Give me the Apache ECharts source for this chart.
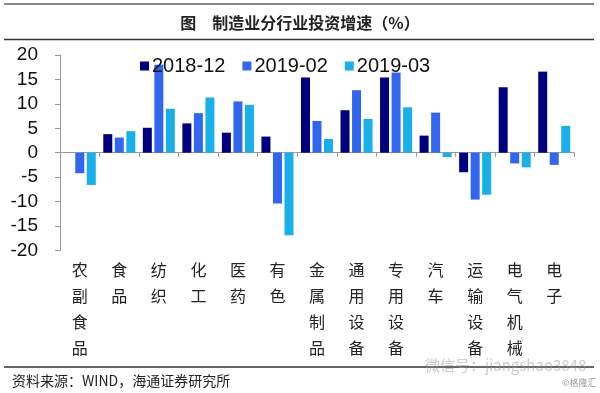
<!DOCTYPE html>
<html><head><meta charset="utf-8">
<script src="https://cdn.jsdelivr.net/npm/echarts@6/dist/echarts.min.js"></script>
<style>html,body{margin:0;padding:0;background:#fff}#c{width:600px;height:393px}</style>
</head><body><div id="c"></div>
<script>
const categories = ['农\n副\n食\n品','食\n品','纺\n织','化\n工','医\n药','有\n色','金\n属\n制\n品','通\n用\n设\n备','专\n用\n设\n备','汽\n车','运\n输\n设\n备','电\n气\n机\n械','电\n子'];
const s201812 = [0, 3.8, 5.1, 6.0, 4.1, 3.3, 15.4, 8.7, 15.4, 3.5, -4.0, 13.4, 16.6];
const s201902 = [-4.2, 3.1, 18.0, 8.1, 10.5, -10.4, 6.5, 12.8, 16.4, 8.2, -9.6, -2.2, -2.5];
const s201903 = [-6.6, 4.4, 9.0, 11.3, 9.8, -16.9, 2.8, 6.9, 9.3, -0.9, -8.6, -3.0, 5.5];
const seriesNames = ['2018-12','2019-02','2019-03'];
const colors = ['#00007e','#3366ee','#19b0ea'];

const chart = echarts.init(document.getElementById('c'));
const mk = (name, data, color) => ({
  name, type:'bar', data, barWidth:9, barGap:'28%',
  itemStyle:{color}, animation:false
});
chart.setOption({
  animation:false,
  title:{text:'图　制造业分行业投资增速（%）', left:'center', top:10,
    textStyle:{fontFamily:'Noto Sans CJK SC', fontSize:16, fontWeight:'bold', color:'#222'}},
  legend:{data:seriesNames, left:135, top:51, itemWidth:9, itemHeight:9, itemGap:17,
    icon:'rect', textStyle:{fontFamily:'Liberation Sans', fontSize:20, color:'#111', padding:[0,0,0,-2]}},
  grid:[{left:60, right:26, top:55, bottom:142.6},{left:60, right:26, top:55, bottom:136}],
  xAxis:[{type:'category', data:categories,
    axisLine:{onZero:true, lineStyle:{color:'#999'}},
    axisTick:{show:true, alignWithLabel:false, length:4, lineStyle:{color:'#999'}},
    axisLabel:{show:false}},
    {type:'category', gridIndex:1, data:categories, position:'bottom',
    axisLine:{show:false}, axisTick:{show:false},
    axisLabel:{interval:0, fontFamily:'Noto Sans CJK SC', fontSize:16, lineHeight:26, color:'#222', margin:0}}],
  yAxis:[{type:'value', min:-20, max:20, interval:5,
    splitLine:{show:false},
    axisLine:{show:true, lineStyle:{color:'#999'}},
    axisTick:{show:true, length:5, lineStyle:{color:'#999'}},
    axisLabel:{fontFamily:'Liberation Sans', fontSize:19, color:'#111', margin:22}},
    {type:'value', gridIndex:1, min:0, max:1, show:false}],
  series:[mk(seriesNames[0], s201812, colors[0]), mk(seriesNames[1], s201902, colors[1]), mk(seriesNames[2], s201903, colors[2])],
  graphic:[
    {type:'line', shape:{x1:4,y1:4,x2:594,y2:4}, style:{stroke:'#8a8a8a', lineWidth:2}},
    {type:'line', shape:{x1:4,y1:39.5,x2:594,y2:39.5}, style:{stroke:'#333', lineWidth:1.5}},
    {type:'line', shape:{x1:4,y1:367,x2:594,y2:367}, style:{stroke:'#333', lineWidth:1.5}},
    {type:'text', left:12, top:374, style:{text:'资料来源：WIND，海通证券研究所', font:'14px "Noto Sans CJK SC"', fill:'#222'}},
    {type:'text', left:425, top:358, style:{text:'微信号：jiangshao3848', font:'15px "Noto Sans CJK SC"', fill:'rgba(150,150,150,0.5)'}},
    {type:'text', left:562, top:378, style:{text:'©格隆汇', font:'9px "Noto Sans CJK SC"', fill:'#999'}}
  ]
});
</script></body></html>
